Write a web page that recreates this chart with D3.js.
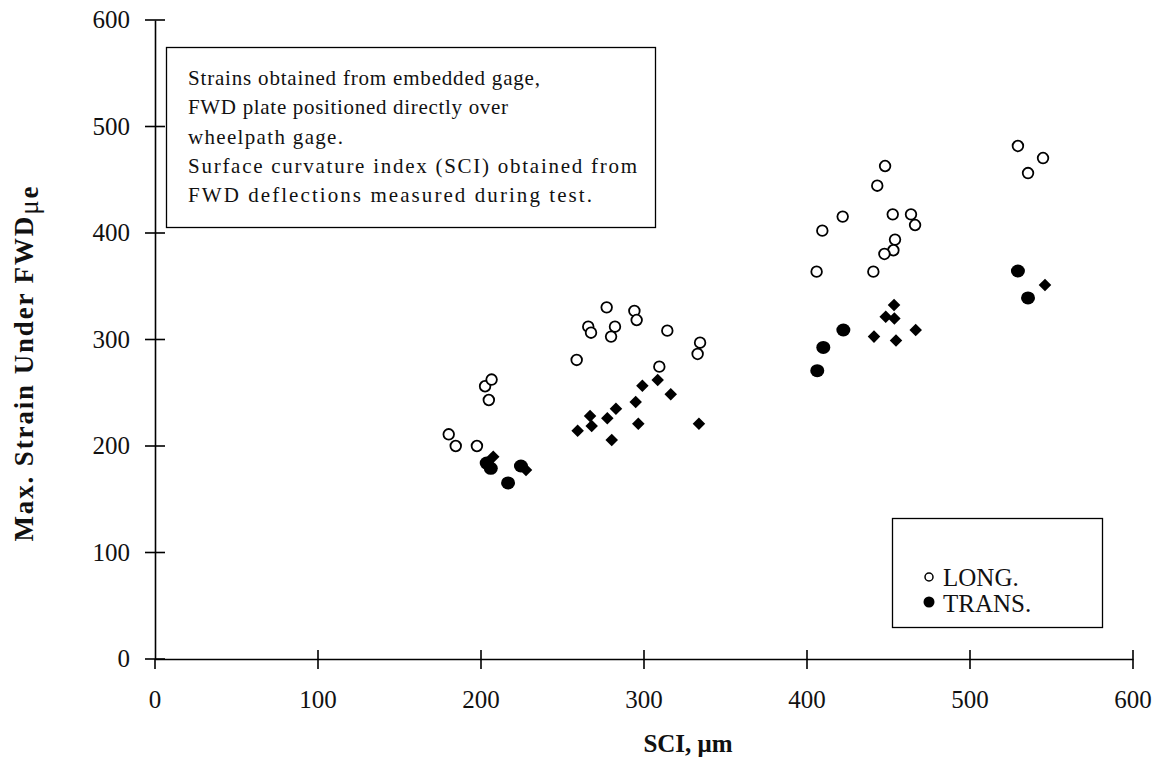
<!DOCTYPE html>
<html><head><meta charset="utf-8">
<script src="https://cdn.jsdelivr.net/npm/d3@7"></script>
<style>body{margin:0;background:#fff}svg{display:block}text{font-family:"Liberation Serif","Times New Roman",serif;fill:#111}</style>
</head><body><div id="chart"></div>
<script>
// SCI (um), max strain (microstrain)
const longPts = [[180.2,211.0],[184.5,200.0],[197.5,200.0],[202.5,256.1],[206.5,262.4],[204.8,243.2],
 [277.1,330.2],[294.1,326.8],[295.5,318.3],[265.8,312.0],[267.5,306.4],[282.2,312.0],[279.8,302.7],[314.3,308.3],[334.4,297.0],[332.9,286.4],[258.7,280.8],[309.4,274.5],
 [447.9,462.9],[443.1,444.4],[421.9,415.4],[452.6,417.5],[463.8,417.5],[466.3,407.5],[409.4,402.2],[454.0,393.8],[453.0,383.8],[447.5,380.3],[405.9,363.7],[440.7,363.7],
 [529.4,481.7],[544.8,470.4],[535.6,456.3]];
const transCircles = [[203.5,184],[206,179],[224.5,181.2],[216.6,165.3],[422.3,308.9],[410,292.6],[406.3,270.7],[529.4,364.3],[535.6,339]];
const transDiamonds = [[207.5,190],[227.6,177.5],[308.4,262],[299,256.6],[316.4,248.5],[294.9,241.3],[282.8,235],[266.9,228.2],[277.5,226],[267.9,218.8],[259.3,214.4],[296.5,220.9],[333.7,220.9],[280.2,205.6],[453.4,332.4],[448.3,321.4],[453.6,319.8],[466.7,308.9],[441.1,302.7],[454.6,299],[546,351.2]];
const xTicks = [0,100,200,300,400,500,600];
const yTicks = [0,100,200,300,400,500,600];
const noteLines = ["Strains obtained from embedded gage,","FWD plate positioned directly over","wheelpath gage.","Surface curvature index (SCI) obtained from","FWD deflections measured during test."];
const legendItems = ["LONG.","TRANS."];

const W=1163,H=768;
const svg=d3.select("#chart").append("svg").attr("width",W).attr("height",H);
const x=d3.scaleLinear().domain([0,600]).range([155,1133]);
const y=d3.scaleLinear().domain([0,600]).range([659,20]);

// axes
const gx=svg.append("g").attr("transform",`translate(0,${y(0)})`)
 .call(d3.axisBottom(x).tickValues(xTicks).tickSize(0).tickFormat(""));
gx.select(".domain").attr("stroke","#000").attr("stroke-width",1.6);
const gy=svg.append("g").attr("transform",`translate(${x(0)},0)`)
 .call(d3.axisLeft(y).tickValues(yTicks).tickSize(0).tickFormat(""));
gy.select(".domain").attr("stroke","#000").attr("stroke-width",1.6);
// crossing ticks
svg.append("g").selectAll("line").data(xTicks.slice(1)).join("line")
 .attr("x1",d=>x(d)).attr("x2",d=>x(d)).attr("y1",y(0)-9).attr("y2",y(0)+10)
 .attr("stroke","#000").attr("stroke-width",1.6);
svg.append("g").selectAll("line").data(yTicks).join("line")
 .attr("x1",x(0)-10).attr("x2",x(0)+10).attr("y1",d=>y(d)).attr("y2",d=>y(d))
 .attr("stroke","#000").attr("stroke-width",1.6);
svg.append("line").attr("x1",x(0)).attr("x2",x(0)).attr("y1",y(0)).attr("y2",y(0)+10).attr("stroke","#000").attr("stroke-width",1.6);

svg.append("g").selectAll("text").data(xTicks).join("text")
 .attr("x",d=>x(d)).attr("y",y(0)+49).attr("text-anchor","middle").attr("font-size",25).text(d=>d);
svg.append("g").selectAll("text").data(yTicks).join("text")
 .attr("x",x(0)-25).attr("y",d=>y(d)+8).attr("text-anchor","end").attr("font-size",25).text(d=>d);

// axis titles
const yl=svg.append("text").attr("transform","translate(33,364) rotate(-90)").attr("text-anchor","middle")
 .attr("font-size",27).attr("font-weight","bold").attr("textLength",355).attr("lengthAdjust","spacing");
yl.append("tspan").text("Max. Strain Under FWD");
yl.append("tspan").attr("dy",5).attr("font-weight","normal").text("μ");
yl.append("tspan").text("e");
svg.append("text").attr("x",688).attr("y",752).attr("text-anchor","middle").attr("font-size",25).attr("font-weight","bold")
 .text("SCI, μm");

// note box
svg.append("rect").attr("x",166.5).attr("y",47.5).attr("width",489).attr("height",180).attr("fill","#fff").attr("stroke","#000").attr("stroke-width",1.3);
const noteW=[352,320,155,449,404];
svg.append("g").selectAll("text").data(noteLines).join("text")
 .attr("x",188).attr("y",(d,i)=>85+i*29.3).attr("font-size",21)
 .attr("textLength",(d,i)=>noteW[i]).attr("lengthAdjust","spacing").text(d=>d);

// points
svg.append("g").selectAll("circle").data(longPts).join("circle")
 .attr("cx",d=>x(d[0])).attr("cy",d=>y(d[1])).attr("r",5.3).attr("fill","#fff").attr("stroke","#000").attr("stroke-width",1.8);
svg.append("g").selectAll("path").data(transDiamonds).join("path")
 .attr("d",d3.symbol().type(d3.symbolDiamond2).size(100))
 .attr("transform",d=>`translate(${x(d[0])},${y(d[1])})`).attr("fill","#000");
svg.append("g").selectAll("ellipse").data(transCircles).join("ellipse")
 .attr("cx",d=>x(d[0])).attr("cy",d=>y(d[1])).attr("rx",7).attr("ry",6.5).attr("fill","#000");

// legend
svg.append("rect").attr("x",892.5).attr("y",518.5).attr("width",210).attr("height",109).attr("fill","#fff").attr("stroke","#000").attr("stroke-width",1.3);
svg.append("circle").attr("cx",929).attr("cy",577).attr("r",4).attr("fill","#fff").attr("stroke","#000").attr("stroke-width",1.5);
svg.append("circle").attr("cx",929).attr("cy",602).attr("r",5.5).attr("fill","#000");
svg.append("g").selectAll("text").data(legendItems).join("text")
 .attr("x",943).attr("y",(d,i)=>586+i*25.5).attr("font-size",25).text(d=>d);
</script></body></html>
